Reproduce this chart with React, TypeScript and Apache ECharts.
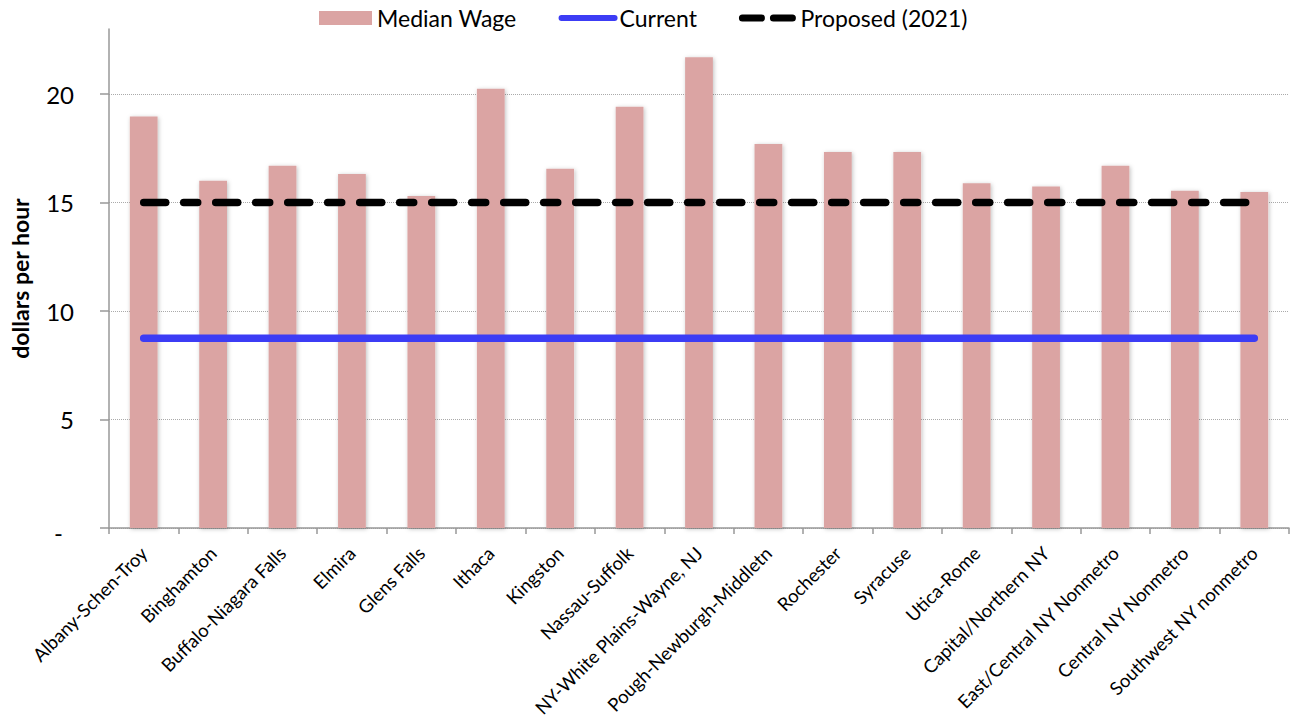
import React, { useEffect, useRef } from "react";
import * as echarts from "echarts";

const categories = [
  "Albany-Schen-Troy",
  "Binghamton",
  "Buffalo-Niagara Falls",
  "Elmira",
  "Glens Falls",
  "Ithaca",
  "Kingston",
  "Nassau-Suffolk",
  "NY-White Plains-Wayne, NJ",
  "Pough-Newburgh-Middletn",
  "Rochester",
  "Syracuse",
  "Utica-Rome",
  "Capital/Northern NY",
  "East/Central NY Nonmetro",
  "Central NY Nonmetro",
  "Southwest NY nonmetro",
];

const medianWage = [
  18.97, 16.0, 16.7, 16.32, 15.3, 20.25, 16.56, 19.42, 21.7, 17.7, 17.33, 17.33,
  15.89, 15.74, 16.7, 15.55, 15.49,
];

const currentWage = [
  8.75, 8.75, 8.75, 8.75, 8.75, 8.75, 8.75, 8.75, 8.75, 8.75, 8.75, 8.75, 8.75,
  8.75, 8.75, 8.75, 8.75,
];

const proposedWage = [
  15, 15, 15, 15, 15, 15, 15, 15, 15, 15, 15, 15, 15, 15, 15, 15, 15,
];

const yTicks = [0, 5, 10, 15, 20];

const FONT = "Lato, 'Open Sans', sans-serif";

export default function App() {
  const ref = useRef<HTMLDivElement>(null);

  useEffect(() => {
    if (!ref.current) return;
    const chart = echarts.init(ref.current, undefined, { renderer: "svg" });
    chart.setOption({
      animation: false,
      backgroundColor: "#ffffff",
      textStyle: { fontFamily: FONT },
      legend: {
        left: 319,
        top: 6,
        padding: 0,
        itemWidth: 53,
        itemHeight: 14,
        itemGap: 42,
        textStyle: { fontFamily: FONT, fontSize: 23, color: "#000", lineHeight: 24 },
        data: [
          { name: "Median Wage", icon: "rect" },
          {
            name: "Current",
            itemStyle: { opacity: 0 },
            lineStyle: { width: 6, cap: "round", color: "#3C3CF5" },
          },
          {
            name: "Proposed (2021)",
            itemStyle: { opacity: 0 },
            lineStyle: { width: 7, cap: "round", type: [19, 12], color: "#000" },
          },
        ],
      },
      grid: { left: 108, right: 2, top: 29, bottom: 193, containLabel: false },
      xAxis: {
        type: "category",
        data: categories,
        boundaryGap: true,
        axisLine: { show: true, lineStyle: { color: "#999", width: 1.5 } },
        axisTick: { show: true, length: 6, alignWithLabel: false, lineStyle: { color: "#999", width: 1.5 } },
        axisLabel: {
          interval: 0,
          rotate: 45,
          margin: 22,
          fontFamily: FONT,
          fontSize: 18.5,
          color: "#000",
        },
        splitLine: { show: false },
      },
      yAxis: {
        type: "value",
        min: 0,
        max: 23,
        interval: 5,
        name: "dollars per hour",
        nameLocation: "middle",
        nameGap: 78,
        nameTextStyle: { fontFamily: FONT, fontSize: 23, fontWeight: "bold", color: "#000" },
        axisLine: { show: true, lineStyle: { color: "#999", width: 1.5 } },
        axisTick: {
          show: true,
          inside: false,
          length: 9,
          customValues: yTicks,
          lineStyle: { color: "#999", width: 1.5 },
        },
        axisLabel: {
          customValues: yTicks,
          margin: 35,
          fontFamily: FONT,
          fontSize: 24,
          color: "#000",
          formatter: (v: number) => (v === 0 ? "{d|-}" : String(v)),
          rich: {
            d: { fontFamily: FONT, fontSize: 24, color: "#000", padding: [8, 11, 0, 0] },
          },
        },
        splitLine: {
          show: true,
          lineStyle: { color: "#aaa", type: "dotted", width: 1 },
        },
      },
      series: [
        {
          name: "Median Wage",
          type: "bar",
          data: medianWage,
          barCategoryGap: "60%",
          itemStyle: {
            color: "#DBA4A3",
            shadowColor: "rgba(0,0,0,0.25)",
            shadowBlur: 4,
            shadowOffsetX: 1,
            shadowOffsetY: 1,
          },
        },
        {
          name: "Current",
          type: "line",
          data: currentWage,
          symbol: "none",
          lineStyle: { color: "#3C3CF5", width: 7.5, cap: "round" },
          itemStyle: { color: "#3C3CF5" },
        },
        {
          name: "Proposed (2021)",
          type: "line",
          data: proposedWage,
          symbol: "none",
          lineStyle: {
            color: "#000",
            width: 7.5,
            type: [22, 18, 14, 18],
            cap: "round",
          },
          itemStyle: { color: "#000" },
        },
      ],
    });
    return () => chart.dispose();
  }, []);

  return (
    <div
      ref={ref}
      style={{ position: "fixed", left: 0, top: 0, width: 1291, height: 721 }}
    />
  );
}
